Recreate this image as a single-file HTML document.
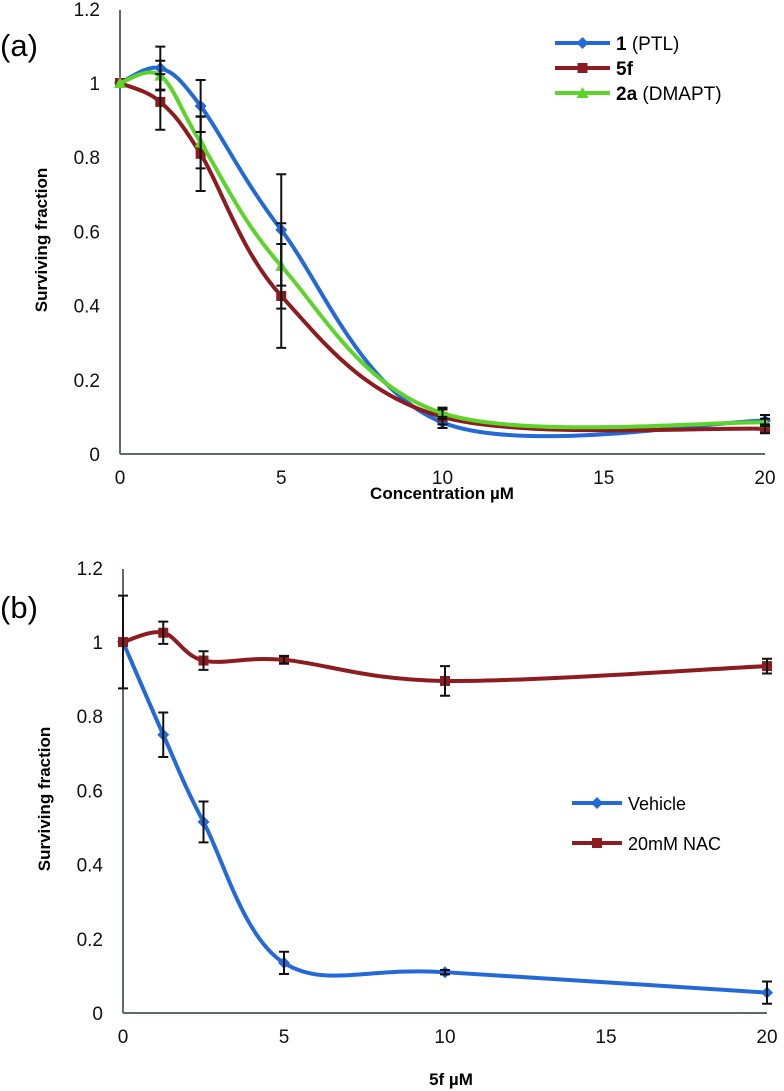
<!DOCTYPE html>
<html><head><meta charset="utf-8"><style>
html,body{margin:0;padding:0;background:#fff;}
svg{display:block;font-family:"Liberation Sans",sans-serif;}
</style></head><body>
<svg id="s" width="784" height="1091" viewBox="0 0 784 1091"></svg>
<script>
const xTicks=[0,5,10,15,20];
const yTicks=[0,0.2,0.4,0.6,0.8,1,1.2];
const yTickLabels=["0","0.2","0.4","0.6","0.8","1","1.2"];
const concA=[0,1.25,2.5,5,10,20];
const ptlVals=[1,1.04,0.938,0.604,0.085,0.09];
const ptlErr=[0,0.058,0.07,0.15,0.015,0.015];
const f5Vals=[1,0.949,0.809,0.426,0.10,0.068];
const f5Err=[0,0.075,0.1,0.14,0.02,0.012];
const a2Vals=[1,1.02,0.84,0.507,0.11,0.085];
const a2Err=[0,0.04,0.07,0.115,0.015,0.01];
const concB=[0,1.25,2.5,5,10,20];
const vehVals=[1,0.75,0.515,0.135,0.11,0.055];
const vehErr=[0,0.06,0.055,0.03,0.006,0.03];
const nacVals=[1,1.025,0.95,0.952,0.895,0.935];
const nacErr=[0.125,0.03,0.025,0.01,0.04,0.02];

const NS="http://www.w3.org/2000/svg";
const svg=document.getElementById('s');
function mk(tag,attrs,parent){const e=document.createElementNS(NS,tag);for(const k in attrs)e.setAttribute(k,attrs[k]);(parent||svg).appendChild(e);return e;}
function txt(x,y,s,attrs,parent){const t=mk('text',Object.assign({x:x,y:y},attrs),parent);t.textContent=s;return t;}

function smoothPath(pts){
  let d='M'+pts[0][0]+','+pts[0][1];
  for(let i=0;i<pts.length-1;i++){
    const p0=pts[i-1]||pts[i],p1=pts[i],p2=pts[i+1],p3=pts[i+2]||pts[i+1];
    const c1x=p1[0]+(p2[0]-p0[0])/6,c1y=p1[1]+(p2[1]-p0[1])/6;
    const c2x=p2[0]-(p3[0]-p1[0])/6,c2y=p2[1]-(p3[1]-p1[1])/6;
    d+=' C'+c1x+','+c1y+' '+c2x+','+c2y+' '+p2[0]+','+p2[1];
  }
  return d;
}
function marker(g,shape,x,y,color){
  let m;
  if(shape==='diamond') m=mk('path',{d:`M${x},${y-6} L${x+6},${y} L${x},${y+6} L${x-6},${y} Z`,fill:color},g);
  else if(shape==='square') m=mk('rect',{x:x-5,y:y-5,width:10,height:10,fill:color},g);
  else m=mk('path',{d:`M${x},${y-6} L${x+6},${y+5} L${x-6},${y+5} Z`,fill:color},g);
  return m;
}

function panel(cfg){
  const x0=cfg.x0,x1=cfg.x1,y0=cfg.y0,yTop=cfg.yTop,yUnit=cfg.yUnit;
  const X=v=>x0+(x1-x0)*v/20;
  const Y=v=>y0-v*yUnit;
  const g=mk('g',{});
  
  
  const ya=mk('line',{x1:x0,y1:yTop,x2:x0,y2:y0,stroke:'#5b6b6b','stroke-width':2},g);
  
  const xa=mk('line',{x1:x0,y1:y0,x2:x1,y2:y0,stroke:'#5b6b6b','stroke-width':2},g);
  
  yTicks.forEach((v,i)=>{
    const t=txt(x0-20,Y(v)+7,yTickLabels[i],{'font-size':19,'text-anchor':'end',fill:'#111'},g);
    
  });
  xTicks.forEach(v=>{
    const t=txt(X(v),y0+30,String(v),{'font-size':19,'text-anchor':'middle',fill:'#111'},g);
    
  });
  const yt=txt(0,0,'Surviving fraction',{'font-size':17,'font-weight':'bold','text-anchor':'middle',transform:`translate(${x0-73},${(y0+yTop)/2+8}) rotate(-90)`},g);
  
  const xt=txt(cfg.xTitleX,cfg.xTitleY,cfg.xTitle,{'font-size':17,'font-weight':'bold','text-anchor':'middle'},g);
  
  const pl=txt(cfg.plX,cfg.plY,cfg.label,{'font-size':31},g);
  
  cfg.series.forEach(s=>{
    const sg=mk('g',{},g);
    
    const pts=s.x.map((v,i)=>[X(v),Y(s.y[i])]);
    const p=mk('path',{d:smoothPath(pts),fill:'none',stroke:s.color,'stroke-width':4},sg);
    
    pts.forEach((pt,i)=>{
      const m=marker(sg,s.shape,pt[0],pt[1],s.color);
      
    });
  });
  cfg.series.forEach(s=>{
    s.x.forEach((v,i)=>{
      if(!s.e[i])return;
      const cx=X(v),a=Y(s.y[i]+s.e[i]),b=Y(s.y[i]-s.e[i]);
      const eb=mk('path',{d:`M${cx},${a} V${b} M${cx-5},${a} H${cx+5} M${cx-5},${b} H${cx+5}`,stroke:'#111','stroke-width':2,fill:'none'},g);
      
    });
  });
  const lg=mk('g',{},g);
  
  cfg.series.forEach((s,i)=>{
    const ly=cfg.lgY+i*cfg.lgStep;
    const e=mk('g',{},lg);
    
    mk('line',{x1:cfg.lgX,y1:ly,x2:cfg.lgX+cfg.lgW,y2:ly,stroke:s.color,'stroke-width':4},e);
    marker(e,s.shape,cfg.lgX+cfg.lgW/2,ly,s.color);
    const t=mk('text',{x:cfg.lgX+cfg.lgW+6,y:ly+7,'font-size':cfg.lgFont},e);
    s.label.forEach(part=>{const ts=mk('tspan',part.b?{'font-weight':'bold'}:{},t);ts.textContent=part.t;});
  });
}
const BLUE='#2469d8',RED='#8c1c1f',GREEN='#5cd42c';
panel({name:'panel-a',label:'(a)',plX:0,plY:56,x0:120,x1:765,y0:454,yTop:10,yUnit:371,
  xTitle:'Concentration µM',xTitleX:442,xTitleY:499,lgX:555,lgW:55,lgY:43,lgStep:25,lgFont:19,
  series:[
    {key:'ptl',x:concA,y:ptlVals,e:ptlErr,color:BLUE,shape:'diamond',label:[{t:'1',b:1},{t:' (PTL)'}]},
    {key:'5f',x:concA,y:f5Vals,e:f5Err,color:RED,shape:'square',label:[{t:'5f',b:1}]},
    {key:'2a',x:concA,y:a2Vals,e:a2Err,color:GREEN,shape:'triangle',label:[{t:'2a',b:1},{t:' (DMAPT)'}]}
  ]});
panel({name:'panel-b',label:'(b)',plX:0,plY:618,x0:123,x1:767,y0:1013,yTop:569,yUnit:371,
  xTitle:'5f µM',xTitleX:451,xTitleY:1085,lgX:572,lgW:50,lgY:803,lgStep:40,lgFont:18,
  series:[
    {key:'vehicle',x:concB,y:vehVals,e:vehErr,color:BLUE,shape:'diamond',label:[{t:'Vehicle'}]},
    {key:'nac',x:concB,y:nacVals,e:nacErr,color:RED,shape:'square',label:[{t:'20mM NAC'}]}
  ]});
</script>
</body></html>
